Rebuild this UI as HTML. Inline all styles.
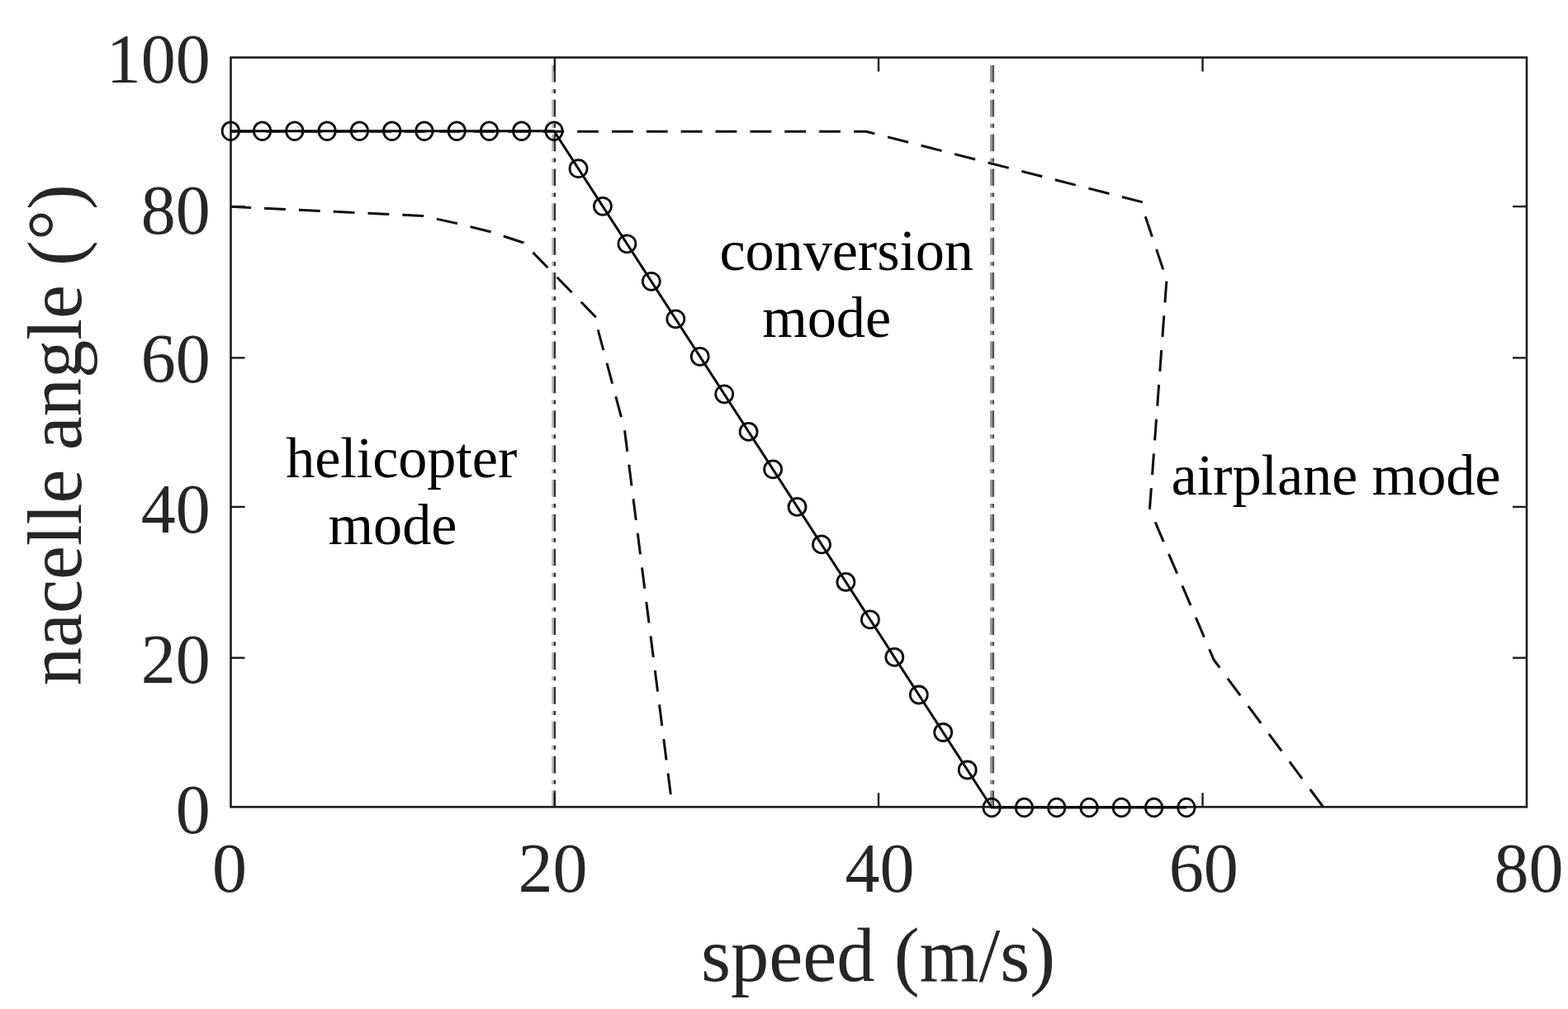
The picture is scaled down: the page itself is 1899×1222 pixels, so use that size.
<!DOCTYPE html>
<html lang="en"><head><meta charset="utf-8"><title>nacelle angle vs speed</title>
<style>
html,body{margin:0;padding:0;background:#fff;}
body{width:1899px;height:1222px;overflow:hidden;}
svg{display:block;filter:blur(0.55px);}
text{font-family:"Liberation Serif",serif;}
.tk{font-size:84px;fill:#262626;}
.lb{font-size:92.5px;fill:#262626;}
.an{font-size:70.3px;fill:#000;letter-spacing:-0.1px;}
</style></head><body>
<svg width="1899" height="1222" viewBox="0 0 1899 1222" role="img" aria-label="Nacelle angle versus speed conversion corridor">
<rect x="0" y="0" width="1899" height="1222" fill="#fff"/>
<g fill="none" stroke="#0c0c0c" stroke-width="3.0" stroke-linejoin="round" stroke-dasharray="25.8 16.06">
<polyline points="279.3,250.3 513.0,261.6 553.5,270.6 594.3,280.8 634.0,294.0 722.5,385.0" stroke-dashoffset="1.0"/>
<polyline points="724.2,399.3 752.5,505.5"/>
<polyline points="756.5,521.2 814.2,977.3"/>
<polyline points="279.3,159.2 1048.8,159.2 1385.5,245.3" stroke-dashoffset="-1.2"/>
<polyline points="1387.2,262.2 1412.6,338.0"/>
<polyline points="1412.8,340.7 1392.3,618.0"/>
<polyline points="1399.1,632.3 1470.0,799.0 1602.5,977.3"/>
</g>
<g fill="none" stroke-width="2.5" stroke-dasharray="20.7 8.3 5 7.84">
<line x1="669.35" y1="78.9" x2="669.35" y2="977" stroke="#bdbdbd"/>
<line x1="671.85" y1="78.9" x2="671.85" y2="977" stroke="#333"/>
<line x1="1200.35" y1="78.9" x2="1200.35" y2="977" stroke="#929292"/>
<line x1="1202.85" y1="78.9" x2="1202.85" y2="977" stroke="#525252"/>
</g>
<g fill="none" stroke="#1c1c1c">
<rect x="279.5" y="69.6" width="1569.5" height="907.7" stroke-width="2.6"/>
<g stroke-width="2.4">
<line x1="671.8" y1="977.3" x2="671.8" y2="960.3"/>
<line x1="671.8" y1="69.6" x2="671.8" y2="86.6"/>
<line x1="1064.0" y1="977.3" x2="1064.0" y2="960.3"/>
<line x1="1064.0" y1="69.6" x2="1064.0" y2="86.6"/>
<line x1="1456.5" y1="977.3" x2="1456.5" y2="960.3"/>
<line x1="1456.5" y1="69.6" x2="1456.5" y2="86.6"/>
<line x1="279.5" y1="250.1" x2="296.5" y2="250.1"/>
<line x1="1849.0" y1="250.1" x2="1832.0" y2="250.1"/>
<line x1="279.5" y1="433.4" x2="296.5" y2="433.4"/>
<line x1="1849.0" y1="433.4" x2="1832.0" y2="433.4"/>
<line x1="279.5" y1="613.9" x2="296.5" y2="613.9"/>
<line x1="1849.0" y1="613.9" x2="1832.0" y2="613.9"/>
<line x1="279.5" y1="796.7" x2="296.5" y2="796.7"/>
<line x1="1849.0" y1="796.7" x2="1832.0" y2="796.7"/>
</g></g>
<g fill="none" stroke="#0a0a0a">
<polyline points="279.3,158.7 671.0,158.7 1201.1,978.0 1436.8,978.0" stroke-width="3.0" stroke-linejoin="miter"/>
<g stroke-width="2.8">
<ellipse cx="279.3" cy="158.7" rx="10.2" ry="10.8"/>
<ellipse cx="317.6" cy="158.7" rx="10.2" ry="10.8"/>
<ellipse cx="356.8" cy="158.7" rx="10.2" ry="10.8"/>
<ellipse cx="396.1" cy="158.7" rx="10.2" ry="10.8"/>
<ellipse cx="435.4" cy="158.7" rx="10.2" ry="10.8"/>
<ellipse cx="474.7" cy="158.7" rx="10.2" ry="10.8"/>
<ellipse cx="513.9" cy="158.7" rx="10.2" ry="10.8"/>
<ellipse cx="553.2" cy="158.7" rx="10.2" ry="10.8"/>
<ellipse cx="592.5" cy="158.7" rx="10.2" ry="10.8"/>
<ellipse cx="631.7" cy="158.7" rx="10.2" ry="10.8"/>
<ellipse cx="671.0" cy="158.7" rx="10.2" ry="10.8"/>
<circle cx="700.5" cy="204.2" r="10.5"/>
<circle cx="729.9" cy="249.8" r="10.5"/>
<circle cx="759.4" cy="295.3" r="10.5"/>
<circle cx="788.8" cy="340.8" r="10.5"/>
<circle cx="818.3" cy="386.3" r="10.5"/>
<circle cx="847.7" cy="431.8" r="10.5"/>
<circle cx="877.2" cy="477.3" r="10.5"/>
<circle cx="906.6" cy="522.9" r="10.5"/>
<circle cx="936.1" cy="568.4" r="10.5"/>
<circle cx="965.5" cy="613.9" r="10.5"/>
<circle cx="995.0" cy="659.4" r="10.5"/>
<circle cx="1024.4" cy="704.9" r="10.5"/>
<circle cx="1053.9" cy="750.4" r="10.5"/>
<circle cx="1083.3" cy="795.9" r="10.5"/>
<circle cx="1112.8" cy="841.5" r="10.5"/>
<circle cx="1142.2" cy="887.0" r="10.5"/>
<circle cx="1171.7" cy="932.5" r="10.5"/>
<ellipse cx="1201.1" cy="978.0" rx="10.2" ry="10.8"/>
<ellipse cx="1240.4" cy="978.0" rx="10.2" ry="10.8"/>
<ellipse cx="1279.7" cy="978.0" rx="10.2" ry="10.8"/>
<ellipse cx="1319.0" cy="978.0" rx="10.2" ry="10.8"/>
<ellipse cx="1358.2" cy="978.0" rx="10.2" ry="10.8"/>
<ellipse cx="1397.5" cy="978.0" rx="10.2" ry="10.8"/>
<ellipse cx="1436.8" cy="978.0" rx="10.2" ry="10.8"/>
</g></g>
<g class="tk" text-anchor="end">
<text x="254.8" y="99.6">100</text>
<text x="254.8" y="282.6">80</text>
<text x="254.8" y="462.8">60</text>
<text x="254.8" y="645.2">40</text>
<text x="254.8" y="826.6">20</text>
<text x="254.8" y="1009.0">0</text>
</g>
<g class="tk" text-anchor="middle">
<text x="278.0" y="1080.2">0</text>
<text x="669.6" y="1080.2">20</text>
<text x="1065.4" y="1080.2">40</text>
<text x="1457.8" y="1080.2">60</text>
<text x="1851.5" y="1080.2">80</text>
</g>
<text class="lb" text-anchor="middle" x="1063.5" y="1188.3">speed (m/s)</text>
<text class="lb" text-anchor="middle" transform="translate(97.5,526.8) rotate(-90)">nacelle angle (°)</text>
<g class="an" text-anchor="middle">
<text x="486.2" y="578.2">helicopter</text>
<text x="475.4" y="659.4">mode</text>
<text x="1025.2" y="327.2">conversion</text>
<text x="1001.1" y="408.4">mode</text>
<text x="1618" y="598.7">airplane mode</text>
</g>
</svg></body></html>
